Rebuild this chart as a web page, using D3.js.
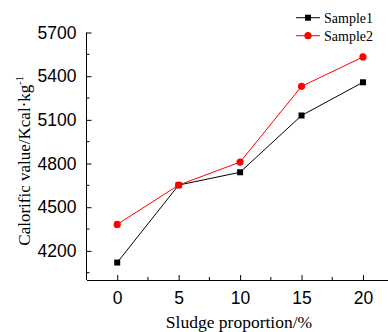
<!DOCTYPE html>
<html><head><meta charset="utf-8">
<script src="https://cdn.jsdelivr.net/npm/d3@7/dist/d3.min.js"></script>
<style>body{margin:0;background:#fff}svg{display:block}</style>
</head><body>
<svg id="c" width="388" height="332"></svg>
<script>
const categories = [0, 5, 10, 15, 20];
const sample1 = [4120, 4652, 4740, 5130, 5358];
const sample2 = [4382, 4652, 4810, 5330, 5532];
const yTicks = [4200, 4500, 4800, 5100, 5400, 5700];
const xTicks = [0, 5, 10, 15, 20];
const seriesNames = ["Sample1", "Sample2"];

const svg = d3.select("#c");
const x = d3.scaleLinear().domain([-2.5, 22.5]).range([86.5, 393.7]);
const y = d3.scaleLinear().domain([4000, 5700]).range([280, 32.5]);

// axes
const xAxis = d3.axisBottom(x).tickValues(xTicks).tickFormat(d3.format("d")).tickSizeInner(-5).tickSizeOuter(0).tickPadding(12);
const gx = svg.append("g").attr("transform", "translate(0,280)").call(xAxis);
gx.selectAll("text").attr("font-family", "Liberation Sans, Arial, sans-serif").attr("font-size", 17.5).attr("fill", "#000");
gx.selectAll("line,path").attr("stroke", "#000");
// minor x ticks
svg.append("g").selectAll("line").data([-2.5, 2.5, 7.5, 12.5, 17.5, 22.5]).join("line")
  .attr("x1", d => x(d)).attr("x2", d => x(d)).attr("y1", 280).attr("y2", 277).attr("stroke", "#000");

const yAxis = d3.axisLeft(y).tickValues(yTicks).tickFormat(d3.format("d")).tickSizeInner(-5).tickSizeOuter(0).tickPadding(10);
const gy = svg.append("g").attr("transform", "translate(86.5,0)").call(yAxis);
gy.select(".domain").attr("d", `M0,${y(5700)}V${y(4000)}`);
gy.selectAll("text").attr("font-family", "Liberation Sans, Arial, sans-serif").attr("font-size", 17.5).attr("fill", "#000");
gy.selectAll("line,path").attr("stroke", "#000");
svg.append("g").selectAll("line").data([4050, 4350, 4650, 4950, 5250, 5550]).join("line")
  .attr("x1", 86.5).attr("x2", 89.5).attr("y1", d => y(d)).attr("y2", d => y(d)).attr("stroke", "#000");

// axis titles
svg.append("text").attr("x", 239).attr("y", 328).attr("text-anchor", "middle")
  .attr("font-family", "Liberation Serif, Times New Roman, serif").attr("font-size", 17.5)
  .text("Sludge proportion/%");
const yl = svg.append("text").attr("transform", "translate(30,161) rotate(-90)").attr("text-anchor", "middle")
  .attr("font-family", "Liberation Serif, Times New Roman, serif").attr("font-size", 17);
yl.append("tspan").text("Calorific value/Kcal·kg");
yl.append("tspan").attr("dy", -7).attr("font-size", 10).text("-1");

// lines
const line = d3.line().x((d, i) => x(categories[i])).y(d => y(d));
svg.append("path").datum(sample1).attr("d", line).attr("fill", "none").attr("stroke", "#000").attr("stroke-width", 1);
svg.append("path").datum(sample2).attr("d", line).attr("fill", "none").attr("stroke", "#ff0000").attr("stroke-width", 1);
svg.append("g").selectAll("rect").data(sample1).join("rect")
  .attr("x", (d, i) => x(categories[i]) - 3).attr("y", d => y(d) - 3).attr("width", 6).attr("height", 6).attr("fill", "#000");
svg.append("g").selectAll("circle").data(sample2).join("circle")
  .attr("cx", (d, i) => x(categories[i])).attr("cy", d => y(d)).attr("r", 3.6).attr("fill", "#ff0000");

// legend
const lg = svg.append("g");
const legY = [17.7, 35.7];
lg.append("line").attr("x1", 296).attr("x2", 320).attr("y1", legY[0]).attr("y2", legY[0]).attr("stroke", "#000");
lg.append("rect").attr("x", 305).attr("y", legY[0] - 3).attr("width", 6).attr("height", 6).attr("fill", "#000");
lg.append("line").attr("x1", 296).attr("x2", 320).attr("y1", legY[1]).attr("y2", legY[1]).attr("stroke", "#ff0000");
lg.append("circle").attr("cx", 308).attr("cy", legY[1]).attr("r", 3.6).attr("fill", "#ff0000");
lg.selectAll("text").data(seriesNames).join("text")
  .attr("x", 324).attr("y", (d, i) => legY[i] + 5).attr("font-family", "Liberation Serif, Times New Roman, serif")
  .attr("font-size", 14).text(d => d);
</script>
</body></html>
